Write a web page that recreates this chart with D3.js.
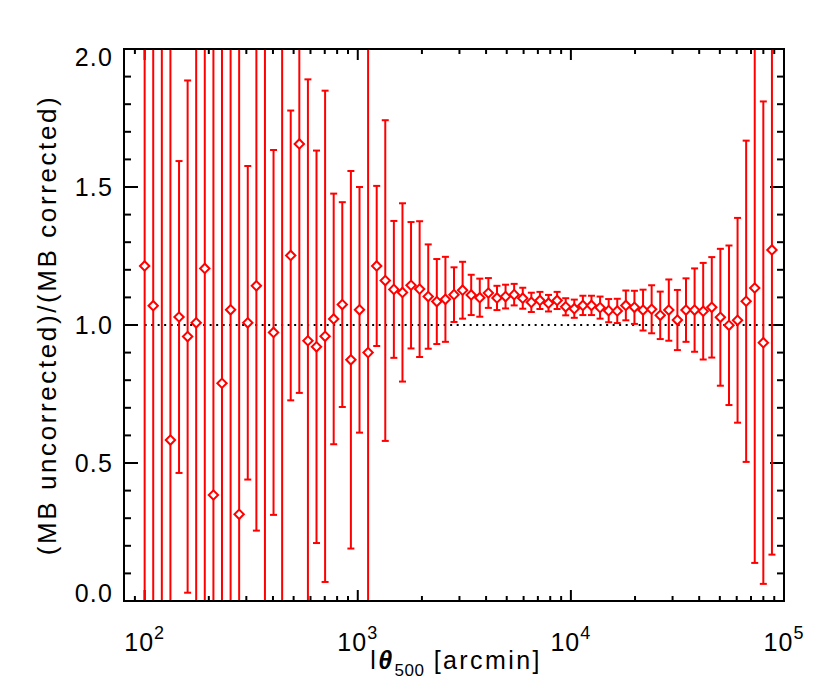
<!DOCTYPE html>
<html>
<head>
<meta charset="utf-8">
<script src="https://cdn.jsdelivr.net/npm/d3@7"></script>
<style>
body { margin: 0; background: #fff; }
text { font-family: "Liberation Sans", Arial, sans-serif; fill: #000; }
</style>
</head>
<body>
<svg id="chart" width="830" height="700"></svg>
<script>
// theta500 bins [arcmin]
var theta = [100, 109.7, 120.4, 132.1, 145.0, 159.1, 174.5, 191.5, 210.2, 230.6,
	253.1, 277.6, 304.7, 334.4, 366.8, 402.5, 441.7, 484.6, 531.8, 583.6,
	640.3, 702.6, 770.9, 846.0, 928.4, 1019, 1118, 1227, 1346, 1477,
	1621, 1778, 1951, 2141, 2349, 2578, 2829, 3104, 3406, 3737,
	4101, 4500, 4937, 5418, 5945, 6523, 7158, 7853, 8618, 9456,
	10375, 11385, 12491, 13709, 15042, 16505, 18111, 19872, 21809, 23930,
	26257, 28811, 31608, 34691, 38064, 41764, 45826, 50277, 55183, 60548,
	66437, 72897, 79983, 87786];
// (MB uncorrected)/(MB corrected)
var ratio = [1.214, 1.070, 2.40, 0.583, 1.029, 0.958, 1.008, 1.205, 0.384, 0.789,
	1.055, 0.314, 1.008, 1.142, -0.30, 0.973, 2.30, 1.252, 1.656, 0.943,
	0.921, 0.959, 1.022, 1.074, 0.874, 1.055, 0.900, 1.214, 1.161, 1.129,
	1.118, 1.144, 1.130, 1.103, 1.085, 1.093, 1.110, 1.126, 1.109, 1.099,
	1.116, 1.098, 1.103, 1.110, 1.097, 1.082, 1.089, 1.079, 1.089, 1.066,
	1.059, 1.071, 1.071, 1.063, 1.052, 1.051, 1.071, 1.064, 1.054, 1.057,
	1.035, 1.054, 1.018, 1.054, 1.054, 1.050, 1.064, 1.028, 0.999, 1.017,
	1.086, 1.134, 0.936, 1.272];
// symmetric 1-sigma errors
var err = [1.60, 1.50, 2.50, 1.60, 0.565, 0.928, 1.20, 1.40, 1.70, 1.30,
	1.20, 1.80, 0.568, 0.887, 2.50, 0.661, 2.40, 0.525, 0.902, 0.947,
	0.711, 0.890, 0.454, 0.371, 0.684, 0.445, 1.30, 0.290, 0.581, 0.248,
	0.323, 0.229, 0.246, 0.189, 0.154, 0.154, 0.099, 0.103, 0.073, 0.069,
	0.054, 0.044, 0.043, 0.039, 0.038, 0.035, 0.031, 0.030, 0.031, 0.031,
	0.033, 0.035, 0.035, 0.040, 0.042, 0.044, 0.054, 0.060, 0.074, 0.087,
	0.086, 0.111, 0.109, 0.115, 0.151, 0.175, 0.182, 0.248, 0.289, 0.371,
	0.582, 0.996, 0.874, 1.104];

var xMajor = [100, 1000, 10000, 100000];
var xExp = ["2", "3", "4", "5"];
var yMajor = [0, 0.5, 1.0, 1.5, 2.0];
var yLabels = ["0.0", "0.5", "1.0", "1.5", "2.0"];
var refLine = [100, 100000];

// plot box (note: "top" is taken by window.top)
var pL = 124, pR = 784, pT = 49, pB = 601;

var svg = d3.select("#chart");

var x = d3.scaleLog().domain([80, 100000]).range([pL, pR]);
var y = d3.scaleLinear().domain([0, 2]).range([pB, pT]);

svg.append("clipPath").attr("id", "plotclip")
	.append("rect")
	.attr("x", pL).attr("y", pT)
	.attr("width", pR - pL).attr("height", pB - pT);

// minor ticks
var xMinor = x.ticks().filter(function(d) { return xMajor.indexOf(d) < 0; });
var yMinor = d3.range(0, 21).map(function(d) { return d / 10; })
	.filter(function(d) { return Math.abs(d * 2 - Math.round(d * 2)) > 1e-6; });

var axes = svg.append("g").attr("stroke", "#000").attr("stroke-width", 2);

function xTick(v, len)
{
	axes.append("line").attr("x1", x(v)).attr("x2", x(v))
		.attr("y1", pB).attr("y2", pB - len);
	axes.append("line").attr("x1", x(v)).attr("x2", x(v))
		.attr("y1", pT).attr("y2", pT + len);
}
function yTick(v, len)
{
	axes.append("line").attr("x1", pL).attr("x2", pL + len)
		.attr("y1", y(v)).attr("y2", y(v));
	axes.append("line").attr("x1", pR).attr("x2", pR - len)
		.attr("y1", y(v)).attr("y2", y(v));
}
xMinor.forEach(function(v) { xTick(v, 5); });
xMajor.forEach(function(v) { xTick(v, 11); });
yMinor.forEach(function(v) { yTick(v, 7); });
yMajor.forEach(function(v) { yTick(v, 14); });

// dotted line at 1
var line = d3.line().x(function(d) { return x(d); }).y(y(1));
svg.append("path").datum(refLine)
	.attr("d", line)
	.attr("fill", "none").attr("stroke", "#000")
	.attr("stroke-width", 2).attr("stroke-dasharray", "2,4.5");

// data
var pts = theta.map(function(t, i) { return {t: t, v: ratio[i], e: err[i]}; });
var data = svg.append("g").attr("clip-path", "url(#plotclip)")
	.attr("stroke", "#ff0000").attr("fill", "none");

data.selectAll("line.bar").data(pts).enter().append("line")
	.attr("class", "bar")
	.attr("x1", function(d) { return x(d.t); })
	.attr("x2", function(d) { return x(d.t); })
	.attr("y1", function(d) { return y(d.v - d.e); })
	.attr("y2", function(d) { return y(d.v + d.e); })
	.attr("stroke-width", 2);

["lo", "hi"].forEach(function(side) {
	data.selectAll("line.cap" + side).data(pts).enter().append("line")
		.attr("class", "cap" + side)
		.attr("x1", function(d) { return x(d.t) - 3.5; })
		.attr("x2", function(d) { return x(d.t) + 3.5; })
		.attr("y1", function(d) { return y(side == "lo" ? d.v - d.e : d.v + d.e); })
		.attr("y2", function(d) { return y(side == "lo" ? d.v - d.e : d.v + d.e); })
		.attr("stroke-width", 2);
});

var diamond = d3.symbol().type(d3.symbolSquare).size(44);
data.selectAll("path.pt").data(pts).enter().append("path")
	.attr("class", "pt")
	.attr("d", diamond)
	.attr("transform", function(d) { return "translate(" + x(d.t) + "," + y(d.v) + ") rotate(45)"; })
	.attr("fill", "#fff")
	.attr("stroke-width", 2);

// frame
svg.append("rect")
	.attr("x", pL).attr("y", pT)
	.attr("width", pR - pL).attr("height", pB - pT)
	.attr("fill", "none").attr("stroke", "#000").attr("stroke-width", 2);

// y labels
svg.selectAll("text.ylab").data(yMajor).enter().append("text")
	.attr("class", "ylab")
	.attr("x", pL - 11)
	.attr("y", function(d, i) {
		var yy = y(d);
		if (i == 0) yy -= 8;
		if (i == yMajor.length - 1) yy += 8;
		return yy;
	})
	.attr("dy", "0.36em")
	.attr("text-anchor", "end")
	.attr("font-size", 25)
	.attr("letter-spacing", 1.2)
	.text(function(d, i) { return yLabels[i]; });

// x labels
var xl = svg.selectAll("text.xlab").data(xMajor).enter().append("text")
	.attr("class", "xlab")
	.attr("x", function(d) { return x(d); })
	.attr("y", 651)
	.attr("text-anchor", "middle")
	.attr("font-size", 25)
	.attr("letter-spacing", 1);
xl.append("tspan").text("10");
xl.append("tspan").attr("font-size", 18).attr("dy", -12)
	.text(function(d, i) { return xExp[i]; });

// axis titles
var xt = svg.append("text")
	.attr("x", (pL + pR) / 2 + 2).attr("y", 669)
	.attr("text-anchor", "middle")
	.attr("font-size", 25)
	.attr("letter-spacing", 2.4);
xt.append("tspan").text("l");
xt.append("tspan").attr("font-style", "italic").attr("font-weight", "bold").text("\u03b8");
xt.append("tspan").attr("font-size", 17).attr("dy", 7).attr("letter-spacing", 0.5).text("500");
xt.append("tspan").attr("dy", -7).text(" [arcmin]");

svg.append("text")
	.attr("transform", "translate(56," + (pT + pB) / 2 + ") rotate(-90)")
	.attr("text-anchor", "middle")
	.attr("font-size", 26)
	.attr("letter-spacing", 2.6)
	.text("(MB uncorrected)/(MB corrected)");
</script>
</body>
</html>
